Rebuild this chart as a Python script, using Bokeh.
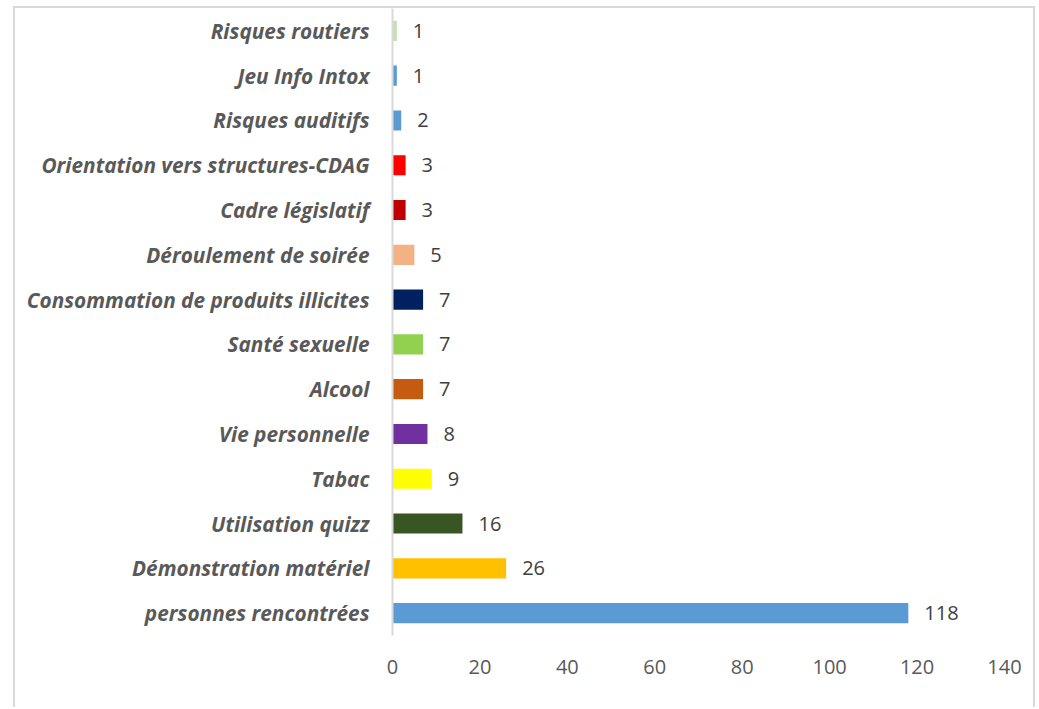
from bokeh.plotting import figure
from bokeh.models import ColumnDataSource, FactorRange, FixedTicker
from bokeh.core.properties import value
from bokeh.embed import file_html
from bokeh.resources import INLINE

categories = ["personnes rencontrées", "Démonstration matériel", "Utilisation quizz",
              "Tabac", "Vie personnelle", "Alcool", "Santé sexuelle",
              "Consommation de produits illicites", "Déroulement de soirée",
              "Cadre législatif", "Orientation vers structures-CDAG",
              "Risques auditifs", "Jeu Info Intox", "Risques routiers"]
counts = [118, 26, 16, 9, 8, 7, 7, 7, 5, 3, 3, 2, 1, 1]
bar_colors = ["#5b9bd5", "#ffc000", "#375623", "#ffff00", "#7030a0", "#c55a11",
              "#92d050", "#002060", "#f4b183", "#c00000", "#ff0000", "#5b9bd5",
              "#5b9bd5", "#c5e0b4"]
x_ticks = [0, 20, 40, 60, 80, 100, 120, 140]

src = ColumnDataSource(dict(cat=categories, count=counts, color=bar_colors,
                            label=[str(c) for c in counts]))

p = figure(width=1022, height=701, x_range=(0, 140),
           y_range=FactorRange(factors=categories, range_padding=0),
           output_backend="svg", toolbar_location=None,
           min_border_left=377, min_border_right=33, min_border_top=0,
           min_border_bottom=74)
p.styles = {"margin-left": "13px", "margin-top": "6px",
            "border-left": "2px solid #d9d9d9", "border-top": "2px solid #d9d9d9",
            "border-right": "2px solid #d9d9d9"}

p.hbar(y="cat", right="count", left=0, height=0.45, fill_color="color",
       line_color=None, source=src)
p.text(x="count", y="cat", text="label", source=src, x_offset=16,
       text_baseline="middle", text_align="left", text_font=value("Open Sans"),
       text_font_size="20px", text_color="#404040")

p.outline_line_color = None
p.xgrid.visible = False
p.ygrid.visible = False

ya = p.yaxis[0]
ya.axis_line_color = "#d9d9d9"
ya.axis_line_width = 2
ya.major_tick_line_color = None
ya.minor_tick_line_color = None
ya.major_tick_out = 0
ya.major_tick_in = 0
ya.major_label_text_font = "Open Sans"
ya.major_label_text_font_style = "bold italic"
ya.major_label_text_font_size = "20.8px"
ya.major_label_text_color = "#595959"
ya.major_label_standoff = 23

xa = p.xaxis[0]
xa.ticker = FixedTicker(ticks=x_ticks)
xa.axis_line_color = None
xa.major_tick_line_color = None
xa.minor_tick_line_color = None
xa.major_tick_out = 0
xa.major_tick_in = 0
xa.major_label_text_font = "Open Sans"
xa.major_label_text_font_size = "20px"
xa.major_label_text_color = "#595959"
xa.major_label_standoff = 24

open("out.html", "w").write(file_html(p, INLINE))
